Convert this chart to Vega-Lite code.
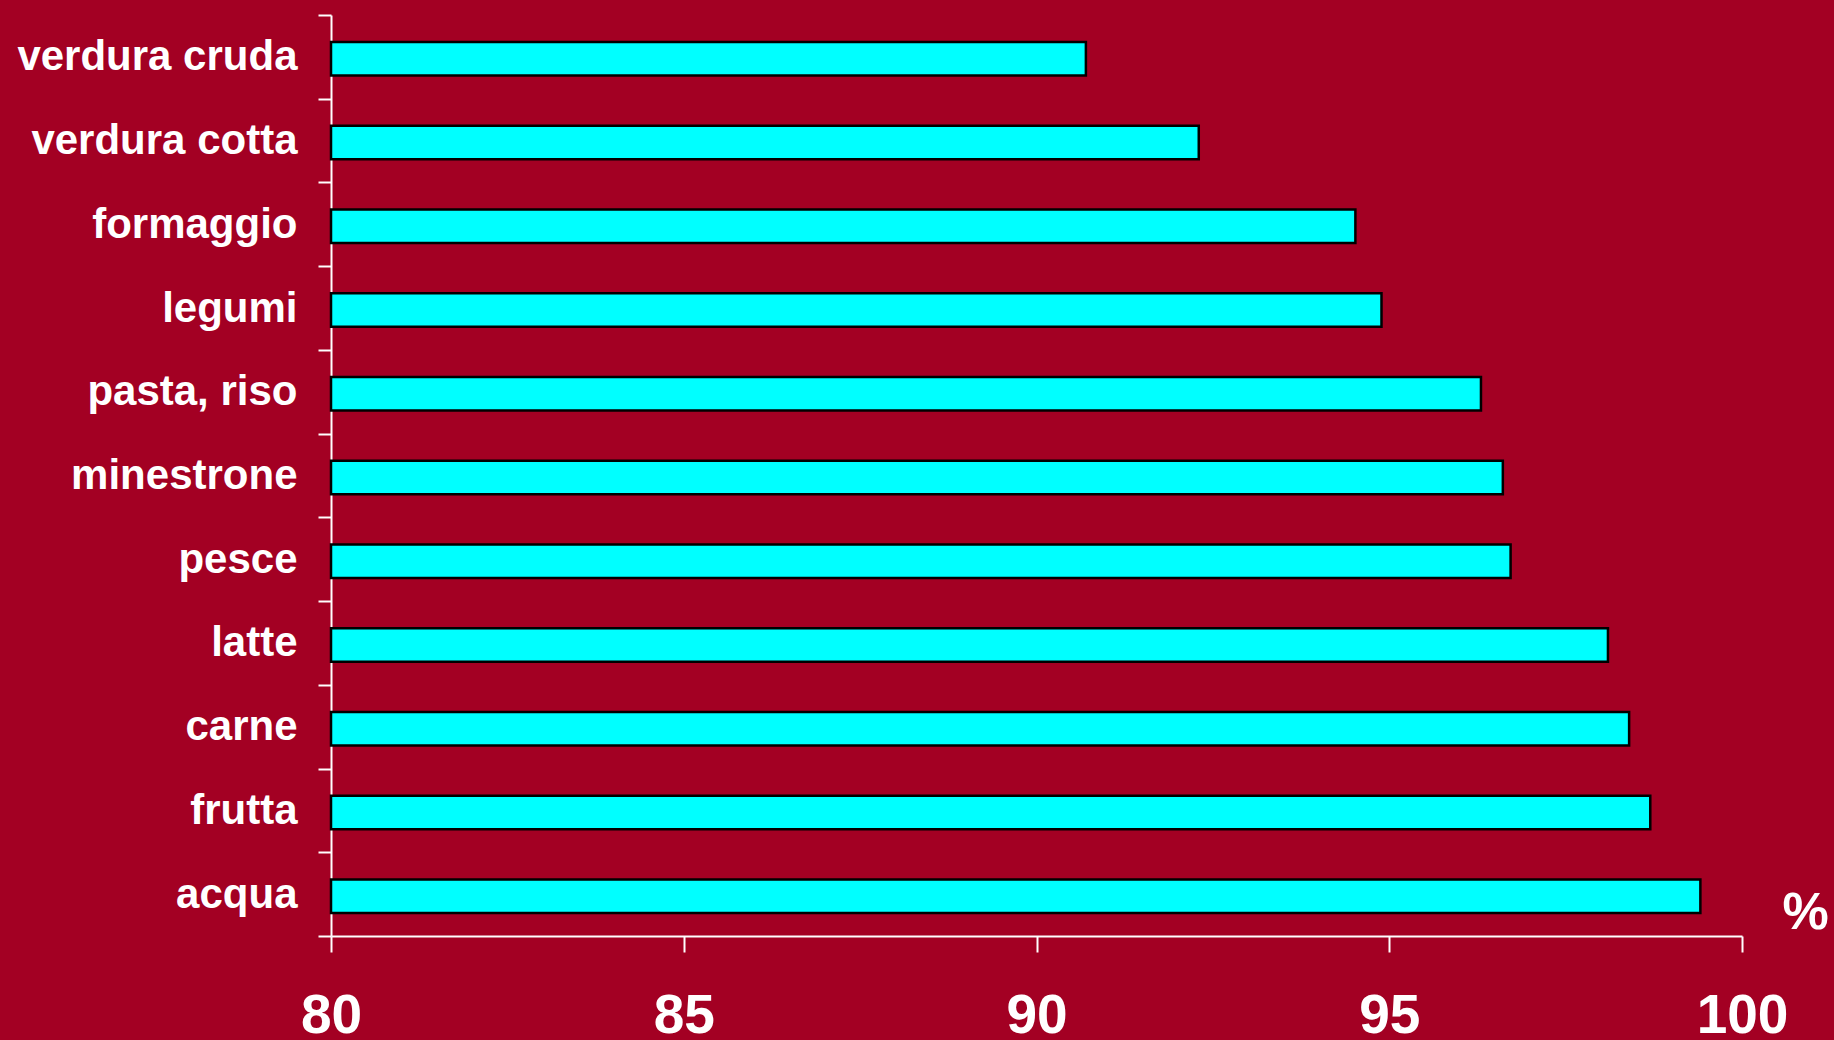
{
  "$schema": "https://vega.github.io/schema/vega-lite/v6.json",
  "width": 1411,
  "height": 921,
  "autosize": {"type": "none"},
  "padding": {"left": 331, "top": 15, "right": 92, "bottom": 104},
  "background": "#A30023",
  "config": {
    "view": {"stroke": null},
    "font": "Liberation Sans"
  },
  "data": {
    "values": [
      {"alimento": "verdura cruda", "valore": 90.7},
      {"alimento": "verdura cotta", "valore": 92.3},
      {"alimento": "formaggio", "valore": 94.52},
      {"alimento": "legumi", "valore": 94.89},
      {"alimento": "pasta, riso", "valore": 96.3},
      {"alimento": "minestrone", "valore": 96.61},
      {"alimento": "pesce", "valore": 96.72},
      {"alimento": "latte", "valore": 98.1},
      {"alimento": "carne", "valore": 98.4},
      {"alimento": "frutta", "valore": 98.7},
      {"alimento": "acqua", "valore": 99.41}
    ]
  },
  "mark": {"type": "bar", "fill": "#00FFFF", "stroke": "#000000", "strokeWidth": 2.5, "height": {"band": 0.4}, "yOffset": 2},
  "encoding": {
    "y": {
      "field": "alimento",
      "type": "nominal",
      "sort": null,
      "scale": {"paddingInner": 0, "paddingOuter": 0},
      "axis": {
        "title": null,
        "tickBand": "extent",
        "domainColor": "#FFFFFF",
        "domainWidth": 2,
        "tickColor": "#FFFFFF",
        "tickWidth": 2,
        "tickSize": 13,
        "labelColor": "#FFFFFF",
        "labelFont": "Liberation Sans",
        "labelFontSize": 42,
        "labelFontWeight": "bold",
        "labelPadding": 21,
        "labelLimit": 400
      }
    },
    "x": {
      "field": "valore",
      "type": "quantitative",
      "scale": {"domain": [80, 100], "zero": false, "nice": false},
      "axis": {
        "title": "%",
        "values": [80, 85, 90, 95, 100],
        "grid": false,
        "domainColor": "#FFFFFF",
        "domainWidth": 2,
        "tickColor": "#FFFFFF",
        "tickWidth": 2,
        "tickSize": 16,
        "labelColor": "#FFFFFF",
        "labelFont": "Liberation Sans",
        "labelFontSize": 55,
        "labelFontWeight": "bold",
        "labelPadding": 37,
        "labelFlush": false,
        "labelOverlap": false,
        "titleColor": "#FFFFFF",
        "titleFont": "Liberation Sans",
        "titleFontSize": 52,
        "titleFontWeight": "bold",
        "titleX": 1474,
        "titleY": -8,
        "titleAlign": "center",
        "titleBaseline": "alphabetic",
        "titleAngle": 0
      }
    },
    "x2": {"datum": 80}
  }
}
